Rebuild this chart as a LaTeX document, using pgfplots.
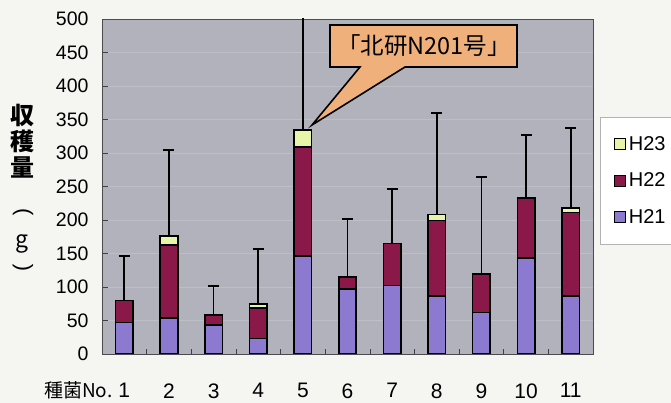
\documentclass[border=0pt]{standalone}
\usepackage{pgfplots}
\pgfplotsset{compat=1.18}
\usepackage{fontspec}
\setmainfont{Liberation Sans}
\newfontfamily\jp{Noto Sans CJK JP}
\definecolor{bgcol}{HTML}{F5F5F1}
\definecolor{plotbg}{HTML}{B2B2BC}
\definecolor{hA}{HTML}{8C7AD0}
\definecolor{hB}{HTML}{8A1848}
\definecolor{hC}{HTML}{E6F5A8}
\definecolor{callout}{HTML}{F0B07C}
\begin{document}
\begin{tikzpicture}
\useasboundingbox (0,0) rectangle (671pt,403pt);
\clip (0,0) rectangle (671pt,403pt);
\fill[bgcol] (0,0) rectangle (671pt,403pt);
\begin{axis}[
  at={(102pt,49pt)}, anchor=south west,
  scale only axis, width=491pt, height=335pt,
  ybar stacked, bar width=17.5pt,
  xmin=0.5, xmax=11.5, ymin=0, ymax=500,
  xtick={1,...,11}, ytick={0,50,...,500},
  minor x tick num=1,
  tick align=inside,
  xtick pos=bottom, ytick pos=left,
  major tick length=6pt, minor tick length=5pt,
  major x tick style={draw=none},
  minor x tick style={draw=gray!50!black, line width=0.6pt},
  major y tick style={draw=gray!50!black, line width=0.6pt},
  axis background/.style={fill=plotbg},
  axis line style={draw=gray!60!black, line width=0.8pt},
  ymajorgrids, major grid style={draw=plotbg!85!white, line width=0.5pt},
  /pgf/number format/assume math mode=true,
  yticklabel style={font=\fontsize{19.5}{20}\selectfont, xshift=-10pt},
  xticklabel style={font=\fontsize{21}{22}\selectfont, yshift=-26pt},
  legend style={at={(1.014,0.707)}, anchor=north west, draw=gray!60, fill=white,
    font=\fontsize{20}{21}\selectfont, row sep=17pt, inner xsep=14pt, inner ysep=17pt,
    column sep=0pt, nodes={inner xsep=3pt},
    cells={anchor=west}},
  legend image code/.code={\draw[#1,draw=black,line width=0.8pt] (0pt,-5.5pt) rectangle (11pt,5.5pt);},
  reverse legend,
]
\addplot+[fill=hA, draw=black, line width=1.6pt] coordinates {
 (1,47) (2,54) (3,43) (4,23) (5,146) (6,97) (7,102) (8,87) (9,62) (10,143) (11,87)};
\addplot+[fill=hB, draw=black, line width=1.6pt] coordinates {
 (1,33) (2,109) (3,15) (4,46) (5,163) (6,18) (7,63) (8,112) (9,57) (10,90) (11,124)};
\addplot+[fill=hC, draw=black, line width=1.6pt,
  error bars/.cd, y dir=plus, y explicit,
  error mark=|, error bar style={line width=1.8pt, black},
  error mark options={line width=2pt, black, mark size=5.5pt}]
 coordinates {
 (1,0) +- (0,67) (2,13) +- (0,128) (3,0) +- (0,44) (4,6) +- (0,81)
 (5,25) +- (0,186) (6,0) +- (0,87) (7,0) +- (0,81) (8,9) +- (0,151)
 (9,0) +- (0,145) (10,0) +- (0,94) (11,7) +- (0,119)};
\legend{H21,H22,H23}
\end{axis}
\draw[fill=callout, draw=black, line width=1.6pt, line join=miter]
  (330pt,378pt) -- (517pt,378pt) -- (517pt,336pt) -- (405pt,336pt)
  -- (312pt,278pt) -- (360pt,336pt) -- (330pt,336pt) -- cycle;
\node[font=\jp\fontsize{23.5}{25}\selectfont] at (424pt,357pt) {「北研N201号」};
\node[anchor=base east, font=\jp\fontsize{19}{20}\selectfont] at (116pt,5pt) {種菌No.};
\begin{scope}[every node/.style={font=\jp\bfseries\fontsize{24}{26}\selectfont, inner sep=0pt}]
\node at (22pt,288pt) {収};
\node at (22pt,262pt) {穫};
\node at (22pt,236pt) {量};
\node[font=\fontsize{22}{24}\selectfont] at (23pt,190pt) {\rotatebox[origin=c]{-90}{(}};
\node[font=\jp\fontsize{23}{25}\selectfont, anchor=base] at (22pt,155pt) {g};
\node[font=\fontsize{22}{24}\selectfont] at (23pt,134pt) {\rotatebox[origin=c]{90}{(}};
\end{scope}
\end{tikzpicture}
\end{document}
